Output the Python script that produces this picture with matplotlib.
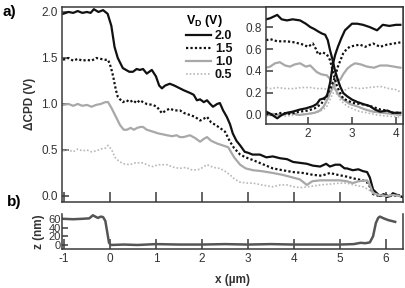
import matplotlib
matplotlib.use("Agg")
import matplotlib.pyplot as plt

plt.rcParams['font.family'] = ['Liberation Sans', 'DejaVu Sans']
plt.rcParams['axes.unicode_minus'] = False

# --- main panel: CPD profiles for each V_D ---
labels = ['2.0', '1.5', '1.0', '0.5']

x_20 = [-1.02, -0.9, -0.8, -0.7, -0.6, -0.5, -0.42, -0.35, -0.25, -0.15,
        -0.05, 0.03, 0.1, 0.17, 0.22, 0.28, 0.35, 0.42, 0.5, 0.58,
        0.65, 0.72, 0.8, 0.91, 1.0, 1.07, 1.13, 1.2, 1.3, 1.4,
        1.52, 1.6, 1.74, 1.82, 1.89, 1.96, 2.04, 2.11, 2.18, 2.24,
        2.33, 2.39, 2.46, 2.54, 2.61, 2.67, 2.75, 2.83, 2.93, 3.0,
        3.1, 3.26, 3.4, 3.54, 3.7, 3.85, 3.98, 4.13, 4.28, 4.41,
        4.57, 4.7, 4.78, 4.9, 5.0, 5.1, 5.15, 5.28, 5.4, 5.5,
        5.59, 5.65, 5.72, 5.8, 5.87, 5.95, 6.02, 6.1, 6.15, 6.25, 6.35]
cpd_20 = [1.98, 2.0, 1.99, 2.01, 1.99, 2.0, 1.99, 2.03, 2.0, 2.02,
          1.98, 1.85, 1.62, 1.5, 1.45, 1.39, 1.37, 1.35, 1.35, 1.38,
          1.37, 1.38, 1.33, 1.37, 1.3, 1.2, 1.17, 1.2, 1.22, 1.2,
          1.17, 1.15, 1.12, 1.1, 1.04, 1.05, 1.02, 1.04, 1.0, 0.97,
          1.0, 1.01, 0.93, 0.86, 0.78, 0.68, 0.6, 0.55, 0.48, 0.47,
          0.45, 0.45, 0.42, 0.43, 0.41, 0.4, 0.37, 0.36, 0.35, 0.33,
          0.32, 0.35, 0.32, 0.34, 0.34, 0.3, 0.3, 0.28, 0.29, 0.27,
          0.26, 0.2, 0.07, 0.03, 0.0, 0.02, -0.01, 0.0, 0.03, 0.01, -0.01]

x_15 = [-1.02, -0.9, -0.8, -0.7, -0.6, -0.5, -0.4, -0.3, -0.2, -0.1,
        -0.04, 0.02, 0.07, 0.13, 0.17, 0.22, 0.28, 0.36, 0.43, 0.5,
        0.58, 0.65, 0.72, 0.8, 0.93, 1.02, 1.13, 1.22, 1.3, 1.4,
        1.52, 1.62, 1.74, 1.85, 1.96, 2.04, 2.11, 2.2, 2.3, 2.39,
        2.5, 2.61, 2.7, 2.83, 2.95, 3.11, 3.3, 3.54, 3.75, 3.98,
        4.2, 4.41, 4.6, 4.78, 4.95, 5.15, 5.3, 5.5, 5.61, 5.67,
        5.72, 5.85, 6.0, 6.15, 6.3]
cpd_15 = [1.48, 1.5, 1.47, 1.49, 1.47, 1.48, 1.47, 1.5, 1.49, 1.48,
          1.48, 1.4, 1.3, 1.15, 1.08, 1.05, 1.02, 1.04, 1.02, 1.04,
          1.01, 1.04, 1.02, 1.0, 0.99, 0.97, 0.9, 0.93, 0.95, 0.93,
          0.93, 0.9, 0.88, 0.86, 0.82, 0.84, 0.86, 0.8, 0.77, 0.74,
          0.7, 0.59, 0.52, 0.45, 0.42, 0.39, 0.35, 0.3, 0.28, 0.26,
          0.25, 0.23, 0.22, 0.25, 0.23, 0.21, 0.19, 0.17, 0.14, 0.08,
          0.02, 0.0, 0.01, 0.0, 0.01]

x_10 = [-1.02, -0.9, -0.8, -0.7, -0.6, -0.5, -0.4, -0.3, -0.2, -0.1,
        -0.04, 0.04, 0.11, 0.17, 0.22, 0.3, 0.37, 0.45, 0.52, 0.59,
        0.66, 0.72, 0.8, 0.93, 1.05, 1.15, 1.24, 1.35, 1.45, 1.52,
        1.6, 1.74, 1.85, 1.96, 2.04, 2.11, 2.2, 2.33, 2.45, 2.57,
        2.7, 2.83, 2.95, 3.11, 3.3, 3.54, 3.75, 3.98, 4.13, 4.28,
        4.4, 4.57, 4.78, 5.0, 5.15, 5.28, 5.4, 5.59, 5.65, 5.72,
        5.85, 6.0, 6.15, 6.3]
cpd_10 = [0.99, 1.0, 0.98, 1.0, 0.98, 0.99, 0.97, 0.99, 1.0, 1.02,
          1.02, 0.95, 0.88, 0.82, 0.77, 0.72, 0.72, 0.74, 0.72, 0.74,
          0.75, 0.75, 0.72, 0.7, 0.68, 0.67, 0.66, 0.65, 0.66, 0.64,
          0.64, 0.66, 0.63, 0.59, 0.62, 0.64, 0.6, 0.57, 0.55, 0.53,
          0.42, 0.34, 0.3, 0.28, 0.27, 0.25, 0.23, 0.2, 0.18, 0.12,
          0.16, 0.17, 0.17, 0.17, 0.16, 0.14, 0.16, 0.17, 0.12, 0.03,
          0.01, 0.0, 0.01, 0.0]

x_05 = [-1.02, -0.9, -0.8, -0.7, -0.6, -0.5, -0.4, -0.3, -0.2, -0.1,
        -0.04, 0.04, 0.11, 0.17, 0.22, 0.3, 0.43, 0.55, 0.72, 0.85,
        0.93, 1.05, 1.24, 1.4, 1.52, 1.65, 1.8, 1.95, 2.11, 2.25,
        2.39, 2.5, 2.61, 2.72, 2.83, 3.0, 3.11, 3.3, 3.54, 3.7,
        3.85, 4.0, 4.13, 4.3, 4.57, 4.8, 5.0, 5.15, 5.3, 5.5,
        5.62, 5.72, 5.85, 6.0, 6.15, 6.3]
cpd_05 = [0.49, 0.5, 0.48, 0.51, 0.49, 0.5, 0.48, 0.49, 0.51, 0.52,
          0.55, 0.5, 0.42, 0.39, 0.37, 0.35, 0.34, 0.36, 0.36, 0.33,
          0.32, 0.34, 0.34, 0.31, 0.3, 0.31, 0.28, 0.29, 0.34, 0.31,
          0.3, 0.27, 0.23, 0.18, 0.15, 0.14, 0.14, 0.12, 0.1, 0.12,
          0.12, 0.1, 0.09, 0.1, 0.12, 0.13, 0.14, 0.14, 0.12, 0.1,
          0.07, 0.03, 0.01, 0.0, 0.01, 0.0]

# --- lower panel: topography ---
x_topo = [-1.02, -0.8, -0.6, -0.45, -0.37, -0.3, -0.26, -0.2, -0.15, -0.1,
          -0.06, -0.02, 0.02, 0.3, 0.6, 1.0, 1.5, 2.0, 2.5, 3.0,
          3.5, 4.0, 4.5, 5.0, 5.3, 5.45, 5.55, 5.65, 5.72, 5.78,
          5.83, 5.87, 5.95, 6.05, 6.2]
z_topo = [60, 59, 60, 61, 68, 64, 62, 65, 64, 55,
          30, 5, 0, 1, 0, 2, 1, 1, 2, 1,
          2, 1, 1, 1, 2, 5, 4, 6, 20, 50,
          62, 65, 61, 57, 53]

# --- inset: falling and rising profiles ---
xi_fall_20 = [1.05, 1.14, 1.3, 1.4, 1.52, 1.65, 1.82, 1.95, 2.05, 2.15, 2.23, 2.32, 2.39, 2.45, 2.5,
              2.56, 2.61, 2.67, 2.73, 2.8, 2.89, 3.0, 3.11, 3.25, 3.41, 3.52, 3.64, 3.8, 3.93, 4.1]
yi_fall_20 = [0.87, 0.88, 0.91, 0.87, 0.86, 0.87, 0.86, 0.83, 0.8, 0.78, 0.76, 0.74, 0.73, 0.68, 0.59,
              0.5, 0.41, 0.33, 0.26, 0.2, 0.17, 0.14, 0.12, 0.1, 0.08, 0.05, 0.03, 0.04, 0.02, 0.02]
xi_rise_20 = [1.05, 1.15, 1.3, 1.4, 1.52, 1.65, 1.82, 1.95, 2.11, 2.2, 2.27, 2.35, 2.43, 2.5, 2.57,
              2.62, 2.68, 2.76, 2.84, 2.92, 3.0, 3.12, 3.25, 3.4, 3.57, 3.7, 3.85, 4.0, 4.1]
yi_rise_20 = [0.03, 0.01, -0.03, 0.0, 0.02, 0.03, 0.05, 0.06, 0.08, 0.1, 0.14, 0.15, 0.17, 0.29, 0.47,
              0.55, 0.62, 0.7, 0.77, 0.8, 0.83, 0.83, 0.82, 0.8, 0.77, 0.82, 0.81, 0.82, 0.82]

xi_fall_15 = [1.05, 1.14, 1.3, 1.52, 1.7, 1.89, 2.0, 2.11, 2.18, 2.23, 2.33, 2.43, 2.5, 2.55,
              2.6, 2.66, 2.73, 2.8, 2.9, 3.02, 3.18, 3.34, 3.5, 3.64, 3.8, 3.93, 4.1]
yi_fall_15 = [0.68, 0.69, 0.67, 0.67, 0.66, 0.64, 0.62, 0.65, 0.6, 0.55, 0.57, 0.55, 0.5, 0.42,
              0.34, 0.26, 0.2, 0.15, 0.13, 0.11, 0.1, 0.09, 0.07, 0.05, 0.04, 0.02, 0.02]
xi_rise_15 = [1.05, 1.2, 1.4, 1.6, 1.8, 2.0, 2.15, 2.3, 2.43, 2.52, 2.6, 2.68,
              2.74, 2.8, 2.88, 2.95, 3.05, 3.18, 3.3, 3.48, 3.64, 3.8, 3.95, 4.1]
yi_rise_15 = [0.01, 0.0, 0.02, 0.01, 0.03, 0.04, 0.06, 0.1, 0.18, 0.25, 0.33, 0.44,
              0.5, 0.56, 0.6, 0.62, 0.63, 0.64, 0.62, 0.65, 0.62, 0.64, 0.65, 0.66]

xi_fall_10 = [1.05, 1.14, 1.25, 1.36, 1.48, 1.59, 1.7, 1.82, 1.95, 2.05, 2.2, 2.3,
              2.43, 2.52, 2.61, 2.7, 2.8, 2.95, 3.11, 3.3, 3.48, 3.7, 3.9, 4.1]
yi_fall_10 = [0.43, 0.44, 0.47, 0.48, 0.45, 0.44, 0.46, 0.47, 0.44, 0.45, 0.39, 0.37,
              0.36, 0.32, 0.24, 0.18, 0.14, 0.1, 0.08, 0.05, 0.03, 0.02, 0.01, 0.0]
xi_rise_10 = [1.05, 1.2, 1.4, 1.6, 1.8, 2.0, 2.15, 2.27, 2.36, 2.45, 2.55, 2.61, 2.67,
              2.73, 2.8, 2.89, 2.98, 3.07, 3.2, 3.34, 3.5, 3.64, 3.8, 3.95, 4.1]
yi_rise_10 = [0.0, 0.01, 0.0, 0.02, 0.0, 0.01, 0.02, 0.04, 0.08, 0.15, 0.24, 0.3, 0.32,
              0.32, 0.37, 0.42, 0.45, 0.47, 0.46, 0.44, 0.43, 0.45, 0.45, 0.44, 0.43]

xi_fall_05 = [1.05, 1.14, 1.3, 1.5, 1.67, 1.85, 2.05, 2.2, 2.36, 2.48, 2.55,
              2.61, 2.67, 2.73, 2.8, 2.89, 3.0, 3.18, 3.35, 3.57, 3.8, 4.1]
yi_fall_05 = [0.25, 0.24, 0.25, 0.24, 0.24, 0.25, 0.25, 0.24, 0.24, 0.23, 0.23,
              0.26, 0.2, 0.14, 0.11, 0.08, 0.06, 0.03, 0.02, 0.0, -0.01, -0.02]
xi_rise_05 = [1.05, 1.25, 1.5, 1.75, 2.0, 2.2, 2.35, 2.43, 2.5, 2.57, 2.63,
              2.68, 2.75, 2.82, 2.89, 3.0, 3.18, 3.4, 3.64, 3.85, 4.0, 4.1]
yi_rise_05 = [-0.01, 0.0, -0.01, 0.0, 0.01, 0.02, 0.05, 0.08, 0.14, 0.2, 0.2,
              0.18, 0.2, 0.22, 0.24, 0.25, 0.24, 0.25, 0.26, 0.24, 0.23, 0.21]

styles = [
    dict(color='#111111', lw=1.6, ls='-'),
    dict(color='#111111', lw=1.6, ls=(0, (1, 1))),
    dict(color='#a8a8a8', lw=1.6, ls='-'),
    dict(color='#b8b8b8', lw=1.2, ls=(0, (1, 1.2))),
]
spine_col = '#3a3a3a'
txt_col = '#333333'
fs = 8.5

fig = plt.figure(figsize=(4.05, 2.88), dpi=100)

def style_axes(ax):
    for s in ax.spines.values():
        s.set_color(spine_col)
        s.set_linewidth(1.1)
    ax.tick_params(direction='in', length=5, width=1.1, color=spine_col,
                   labelsize=fs, labelcolor=txt_col, pad=3)

# main
ax = fig.add_axes([0.153, 0.2997, 0.842, 0.676])
main_x = [x_20, x_15, x_10, x_05]
main_y = [cpd_20, cpd_15, cpd_10, cpd_05]
for xs, ys, st, lab in zip(main_x, main_y, styles, labels):
    ax.plot(xs, ys, label=lab, **st)
ax.set_xlim(-1.043, 6.37)
ax.set_ylim(-0.062, 2.054)
ax.set_xticks(range(-1, 7))
ax.set_xticklabels([])
ax.set_yticks([0.0, 0.5, 1.0, 1.5, 2.0])
ax.set_yticklabels(['0.0', '0.5', '1.0', '1.5', '2.0'])
style_axes(ax)
ax.tick_params(axis='x', length=7)
ax.set_ylabel('ΔCPD (V)', fontsize=fs, fontweight='bold', color=txt_col, labelpad=4)

leg = ax.legend(title='V$_\\mathregular{D}$ (V)', frameon=False, loc='upper left',
                bbox_to_anchor=(186 / 405, 1 - 13 / 288), bbox_transform=fig.transFigure,
                prop={'size': 9, 'weight': 'bold'}, handlelength=2.0, handletextpad=0.3,
                labelspacing=0.08, borderpad=0, borderaxespad=0, alignment='left')
leg.get_title().set_fontweight('bold')
leg.get_title().set_fontsize(9)
for t in leg.get_texts():
    t.set_color('#111111')

# lower topography
axb = fig.add_axes([0.153, 1 - 249 / 288, 0.842, 35 / 288])
axb.plot(x_topo, z_topo, color='#555555', lw=1.8)
axb.set_xlim(-1.043, 6.37)
axb.set_ylim(-9.2, 71)
axb.set_xticks(range(-1, 7))
axb.set_yticks([0, 20, 40, 60])
axb.spines['top'].set_visible(False)
style_axes(axb)
axb.tick_params(axis='x', length=7)
axb.tick_params(axis='y', length=4, pad=1, labelsize=8)
axb.set_xlabel('x (µm)', fontsize=fs, fontweight='bold', color=txt_col, labelpad=6)
axb.set_ylabel('z (nm)', fontsize=fs, fontweight='bold', color=txt_col, labelpad=2)

# inset
axi = fig.add_axes([266 / 405, 1 - 124 / 288, 137 / 405, 117 / 288])
inset_x = [(xi_fall_20, xi_rise_20), (xi_fall_15, xi_rise_15),
           (xi_fall_10, xi_rise_10), (xi_fall_05, xi_rise_05)]
inset_y = [(yi_fall_20, yi_rise_20), (yi_fall_15, yi_rise_15),
           (yi_fall_10, yi_rise_10), (yi_fall_05, yi_rise_05)]
for k in range(3, -1, -1):
    for xs, ys in zip(inset_x[k], inset_y[k]):
        axi.plot(xs, ys, **styles[k])
axi.set_xlim(1.045, 4.16)
axi.set_ylim(-0.082, 0.982)
axi.set_xticks([2, 3, 4])
axi.set_yticks([0.0, 0.2, 0.4, 0.6, 0.8])
axi.set_yticklabels(['0.0', '0.2', '0.4', '0.6', '0.8'])
style_axes(axi)

fig.text(9 / 405, 1 - 12 / 288, 'a)', fontsize=11, fontweight='bold', ha='center', va='center')
fig.text(14 / 405, 1 - 202 / 288, 'b)', fontsize=11, fontweight='bold', ha='center', va='center')

fig.savefig('out.png', dpi=100)
